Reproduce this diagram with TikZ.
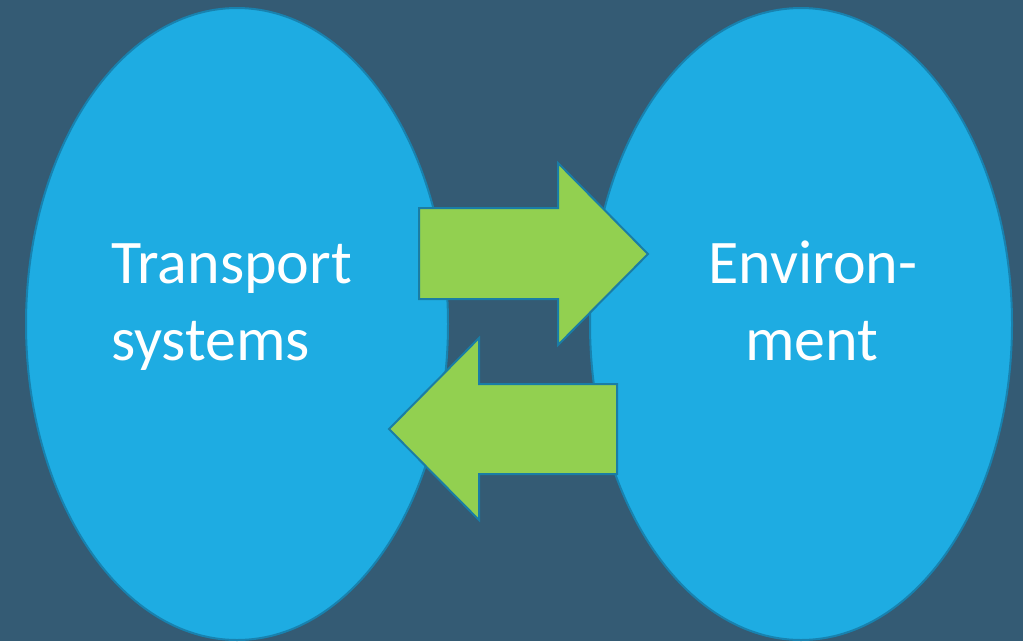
\documentclass[tikz,border=0pt]{standalone}
\usepackage{fontspec}
\setmainfont{Carlito}
\usetikzlibrary{shapes.geometric}
\definecolor{bgc}{RGB}{52,91,116}
\definecolor{ellfill}{RGB}{30,172,226}
\definecolor{ellline}{RGB}{24,130,175}
\definecolor{arrfill}{RGB}{146,208,80}
\definecolor{arrline}{RGB}{26,125,165}
\tikzset{
  blob/.style={ellipse, fill=ellfill, draw=ellline, line width=2pt, inner sep=0pt},
  blockarrow/.style={fill=arrfill, draw=arrline, line width=2pt, line join=miter},
  lbl/.style={text=white, inner sep=0pt, font=\fontsize{62}{77}\selectfont}
}
\begin{document}
\begin{tikzpicture}[x=1pt,y=-1pt]
\fill[bgc] (0,0) rectangle (1023,641);
\useasboundingbox (0,0) rectangle (1023,641);
\node[blob, minimum width=422pt, minimum height=632pt] (left) at (237,324) {};
\node[blob, minimum width=422pt, minimum height=632pt] (right) at (801,324) {};
% right arrow
\draw[blockarrow] (419,208) -- (558,208) -- (558,163) -- (648,254) -- (558,345) -- (558,299) -- (419,299) -- cycle;
% left arrow
\draw[blockarrow] (617,384) -- (479,384) -- (479,338) -- (389,429) -- (479,520) -- (479,474) -- (617,474) -- cycle;
\node[lbl, anchor=base west] (t1) at (111,283) {Transport};
\node[lbl, anchor=base west] (t2) at (111,360) {systems};
\node[lbl, anchor=base] (e1) at (813,283) {Environ-};
\node[lbl, anchor=base] (e2) at (812,360) {ment};
\end{tikzpicture}
\end{document}
